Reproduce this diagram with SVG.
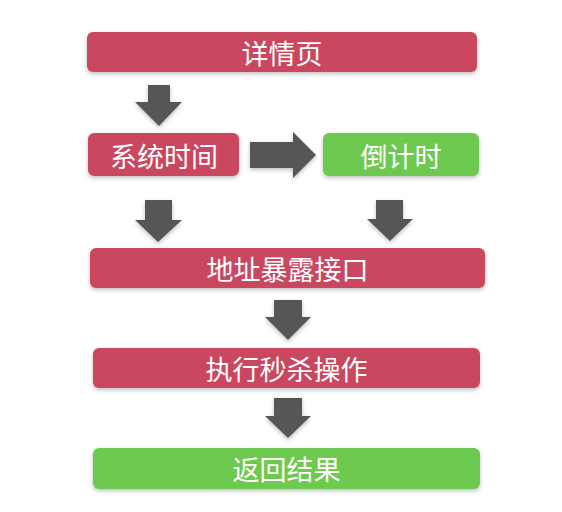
<svg xmlns="http://www.w3.org/2000/svg" width="562" height="512" viewBox="0 0 562 512">
<defs>
<filter id="sh" x="-5%" y="-20%" width="110%" height="150%">
<feDropShadow dx="0" dy="2" stdDeviation="2" flood-color="#000" flood-opacity="0.25"/>
</filter>
<style>
.red{fill:#c9475f;filter:url(#sh)}
.green{fill:#6dc94f;filter:url(#sh)}
.arr{fill:#545659;filter:url(#sh)}
text{font-family:"Noto Sans CJK SC","Noto Sans CJK JP",sans-serif;font-size:27px;fill:#fff;text-anchor:middle;dominant-baseline:central}
</style>
</defs>
<rect width="562" height="512" fill="#fff"/>
<g id="connectors">
<polygon class="arr" points="148,85 170,85 170,102 182,102 159,126 135,102 148,102"/>
<polygon class="arr" points="250,142 293,142 293,132 316,155 293,178 293,168 250,168"/>
<polygon class="arr" points="145,200 172,200 172,220 182,220 158,242 135,220 145,220"/>
<polygon class="arr" points="376,200 403,200 403,219 413,219 390,241 367,219 376,219"/>
<polygon class="arr" points="274,300 302,300 302,317 311,317 288,340 265,317 274,317"/>
<polygon class="arr" points="274,398 302,398 302,416 311,416 288,438 265,416 274,416"/>
</g>
<g id="n1"><rect class="red" x="87" y="32" width="390" height="40" rx="6"/><text x="282" y="52">详情页</text></g>
<g id="n2"><rect class="red" x="88" y="133" width="151" height="43" rx="6"/><text x="164" y="155">系统时间</text></g>
<g id="n3"><rect class="green" x="323" y="133" width="156" height="43" rx="6"/><text x="401" y="155">倒计时</text></g>
<g id="n4"><rect class="red" x="90" y="248" width="395" height="40" rx="6"/><text x="287.5" y="268">地址暴露接口</text></g>
<g id="n5"><rect class="red" x="93" y="348" width="387" height="40" rx="6"/><text x="286.5" y="368">执行秒杀操作</text></g>
<g id="n6"><rect class="green" x="93" y="448" width="387" height="41" rx="6"/><text x="286.5" y="468.5">返回结果</text></g>
</svg>
